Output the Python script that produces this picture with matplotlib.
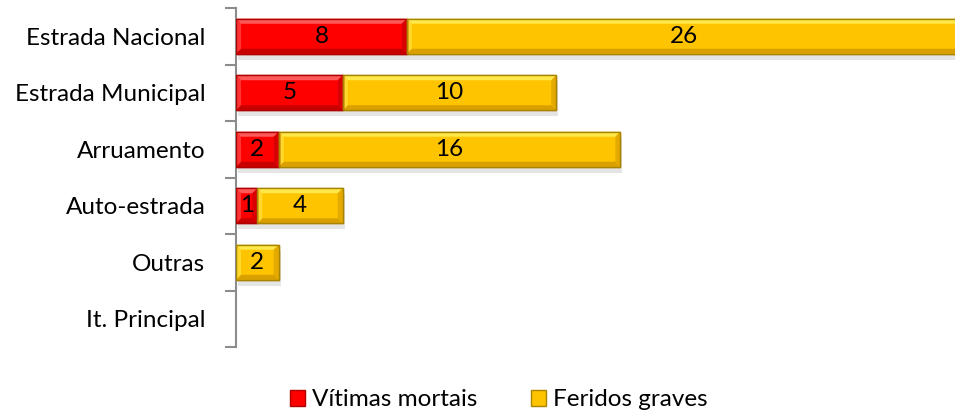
import matplotlib.pyplot as plt
from matplotlib.patches import Polygon, Rectangle

# dados
categorias = ['Estrada Nacional', 'Estrada Municipal', 'Arruamento',
              'Auto-estrada', 'Outras', 'It. Principal']
mortais = [8, 5, 2, 1, 0, 0]
graves = [26, 10, 16, 4, 2, 0]

plt.rcParams['font.family'] = ['Lato', 'DejaVu Sans']

fig = plt.figure(figsize=(9.55, 4.16), dpi=100)
ax = fig.add_axes([236 / 955, 69 / 416, 719 / 955, 339 / 416])

px_x = 1 / 21.35      # unidades de x por pixel
px_y = 1 / 56.5       # unidades de y por pixel
altura = 0.62
bv = 5                # bisel em pixels


def barra(x0, w, y, face, claro, escuro, borda):
    if w <= 0:
        return
    y0, y1 = y - altura / 2, y + altura / 2
    x1 = x0 + w
    bx, by = bv * px_x, bv * px_y
    # sombra
    ax.add_patch(Rectangle((x0 + 2 * px_x, y0 - 6 * px_y), w, altura,
                           facecolor='#000000', alpha=0.10, lw=0, zorder=1))
    ax.add_patch(Rectangle((x0, y0), w, altura, facecolor=face,
                           edgecolor=borda, lw=1, zorder=2))
    # topo claro
    ax.add_patch(Polygon([(x0, y1), (x1, y1), (x1 - bx, y1 - by), (x0 + bx, y1 - by)],
                         closed=True, facecolor=claro, lw=0, zorder=3))
    # base escura
    ax.add_patch(Polygon([(x0, y0), (x1, y0), (x1 - bx, y0 + by), (x0 + bx, y0 + by)],
                         closed=True, facecolor=escuro, lw=0, zorder=3))
    # lados
    ax.add_patch(Polygon([(x0, y0), (x0, y1), (x0 + bx, y1 - by), (x0 + bx, y0 + by)],
                         closed=True, facecolor=claro, alpha=0.6, lw=0, zorder=3))
    ax.add_patch(Polygon([(x1, y0), (x1, y1), (x1 - bx, y1 - by), (x1 - bx, y0 + by)],
                         closed=True, facecolor=escuro, alpha=0.7, lw=0, zorder=3))
    ax.add_patch(Rectangle((x0, y0), w, altura, facecolor='none',
                           edgecolor=borda, lw=1, zorder=4))


ys = list(range(len(categorias)))[::-1]
for y, m, g in zip(ys, mortais, graves):
    barra(0, m, y, '#FF0000', '#FF5A5A', '#C80000', '#B00000')
    barra(m, g, y, '#FFC400', '#FFE84A', '#D9A000', '#A88400')
    if m > 0:
        ax.text(m / 2, y, str(m), ha='center', va='center', fontsize=17.5, zorder=5)
    if g > 0:
        ax.text(m + g / 2, y, str(g), ha='center', va='center', fontsize=17.5, zorder=5)

ax.set_xlim(0, 719 / 21.35)
ax.set_ylim(-0.5, len(categorias) - 0.5)

for s in ['top', 'right', 'bottom']:
    ax.spines[s].set_visible(False)
ax.spines['left'].set_color('#8C8C8C')
ax.spines['left'].set_linewidth(1.5)
ax.set_xticks([])

ax.set_yticks([y - 0.5 for y in range(len(categorias) + 1)])
ax.set_yticklabels([])
ax.tick_params(axis='y', which='major', length=8, width=1.5, color='#8C8C8C')
ax.set_yticks(ys, minor=True)
ax.set_yticklabels(categorias, minor=True, fontsize=17.5)
ax.tick_params(axis='y', which='minor', length=0, pad=22)

# legenda
h1 = Rectangle((0, 0), 1, 1, facecolor='#FF0000', edgecolor='#B00000')
h2 = Rectangle((0, 0), 1, 1, facecolor='#FFC400', edgecolor='#A88400')
fig.legend([h1, h2], ['Vítimas mortais', 'Feridos graves'], loc='center',
           bbox_to_anchor=(499 / 955, 1 - 400 / 416), ncol=2, frameon=False,
           fontsize=17.5, handlelength=0.6, handleheight=0.6, handletextpad=0.3,
           columnspacing=2.2)

fig.savefig('out.png', dpi=100)
